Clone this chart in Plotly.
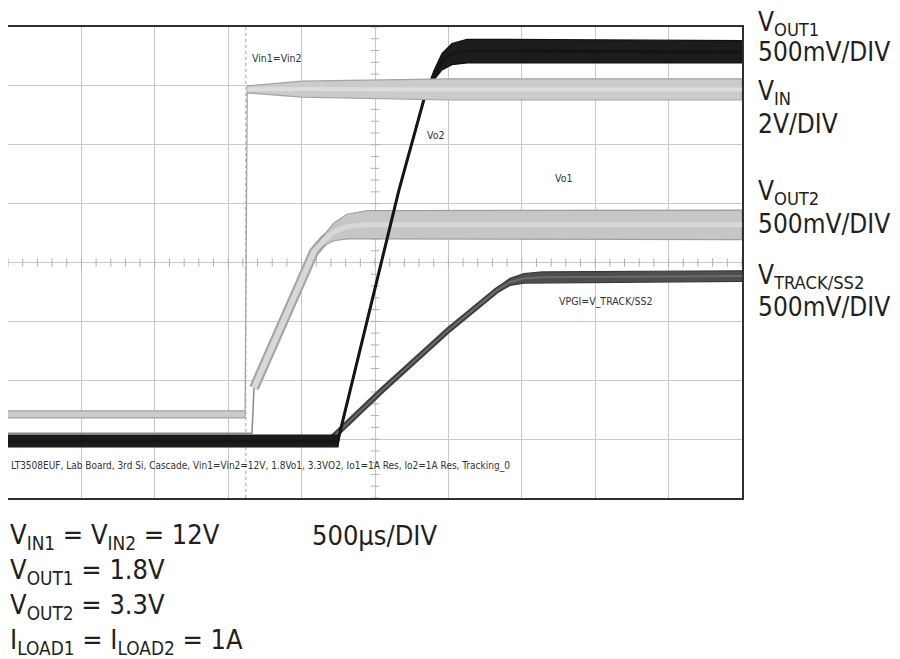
import numpy as np
import plotly.graph_objects as go

# scope screen: 10 x 500us horizontally, 8 divisions vertically (y in div)
vin_t = [0, 1615, 1630, 2000, 3000, 5000]
vin_hi = [1.48, 1.48, 7.00, 7.08, 7.12, 7.12]
vin_lo = [1.36, 1.36, 6.88, 6.81, 6.76, 6.76]

vout2_t = [0, 1662, 1676, 2084, 2153, 2221, 2309, 2446, 5000]
vout2_v = [1.10, 1.10, 1.87, 4.18, 4.38, 4.52, 4.61, 4.64, 4.64]
vout2_rip = [0.02, 0.02, 0.02, 0.04, 0.09, 0.15, 0.21, 0.24, 0.25]

vout1_t = [0, 2248, 2255, 2663, 2841, 2902, 2956, 3024, 3127, 3297, 5000]
vout1_v = [0.97, 0.97, 1.05, 5.23, 6.84, 7.18, 7.41, 7.54, 7.59, 7.59, 7.58]
vout1_rip = [0.10, 0.10, 0.02, 0.02, 0.02, 0.08, 0.14, 0.18, 0.20, 0.20, 0.19]

track_t = [0, 2193, 2221, 2548, 3004, 3331, 3420, 3515, 3638, 5000]
track_v = [0.97, 0.97, 1.05, 1.83, 2.86, 3.53, 3.67, 3.73, 3.75, 3.77]
track_rip = [0.08, 0.08, 0.03, 0.03, 0.03, 0.04, 0.06, 0.08, 0.09, 0.09]

trigger_t = 1620

FONT = "DejaVu Sans Condensed, Roboto, sans-serif"


def band(t, hi, lo, fill, edge):
    xs = list(t) + list(t)[::-1]
    ys = list(hi) + list(lo)[::-1]
    return go.Scatter(x=xs, y=ys, mode="lines", fill="toself", fillcolor=fill,
                      line=dict(color=edge, width=1.2), hoverinfo="skip")


def line(t, v, color, width):
    return go.Scatter(x=t, y=v, mode="lines", line=dict(color=color, width=width),
                      hoverinfo="skip")


fig = go.Figure()

# centre-line tick marks of the graticule
ct = np.arange(0, 5001, 100)
fig.add_trace(go.Scatter(x=ct, y=[4] * len(ct), mode="markers",
                         marker=dict(symbol="line-ns", size=6, line=dict(color="#b0b0b0", width=1)),
                         hoverinfo="skip"))
cv = np.arange(0, 8.01, 0.2)
fig.add_trace(go.Scatter(x=[2500] * len(cv), y=cv, mode="markers",
                         marker=dict(symbol="line-ew", size=6, line=dict(color="#b0b0b0", width=1)),
                         hoverinfo="skip"))

# VOUT2: thin low level, then light tube with a noisy band on the plateau
fig.add_trace(line(vout2_t[:3], vout2_v[:3], "#8a8a8a", 1.5))
fig.add_trace(line(vout2_t[2:], vout2_v[2:], "#a4a4a4", 10))
fig.add_trace(line(vout2_t[2:], vout2_v[2:], "#cecece", 6))
v2_hi = [v + r for v, r in zip(vout2_v, vout2_rip)]
v2_lo = [v - r for v, r in zip(vout2_v, vout2_rip)]
fig.add_trace(band(vout2_t[2:], v2_hi[2:], v2_lo[2:], "#c6c6c6", "#a0a0a0"))
fig.add_trace(line(vout2_t[2:], vout2_v[2:], "#d8d8d8", 5))

# VTRACK/SS2: dark grey
tk_hi = [v + r for v, r in zip(track_v, track_rip)]
tk_lo = [v - r for v, r in zip(track_v, track_rip)]
fig.add_trace(line(track_t, track_v, "#444444", 6))
fig.add_trace(band(track_t, tk_hi, tk_lo, "#4e4e4e", "#3a3a3a"))
fig.add_trace(line(track_t, track_v, "#6a6a6a", 2))

# VOUT1: black
v1_hi = [v + r for v, r in zip(vout1_v, vout1_rip)]
v1_lo = [v - r for v, r in zip(vout1_v, vout1_rip)]
fig.add_trace(band(vout1_t, v1_hi, v1_lo, "#1c1c1c", "#111111"))
fig.add_trace(line(vout1_t, vout1_v, "#151515", 3))

# VIN: light grey band on top
fig.add_trace(band(vin_t, vin_hi, vin_lo, "#cbcbcb", "#a4a4a4"))
vin_mid = [(a + b) / 2 for a, b in zip(vin_hi, vin_lo)]
fig.add_trace(line(vin_t[2:], vin_mid[2:], "#dcdcdc", 4))

fig.add_shape(type="line", x0=trigger_t, x1=trigger_t, y0=0, y1=8, xref="x", yref="y",
              line=dict(color="#a0a0a0", width=1, dash="dot"), layer="below")

small = dict(family=FONT, size=10.5, color="#333333")
fig.add_annotation(x=1832, y=7.47, text="Vin1=Vin2", showarrow=False, font=small)
fig.add_annotation(x=2909, y=6.17, text="Vo2", showarrow=False, font=small)
fig.add_annotation(x=3787, y=5.44, text="Vo1", showarrow=False, font=small)
fig.add_annotation(x=4074, y=3.33, text="VPGI=V_TRACK/SS2", showarrow=False, font=small)
fig.add_annotation(x=10, y=0.54, xanchor="left",
                   text="LT3508EUF, Lab Board, 3rd Si, Cascade, Vin1=Vin2=12V, 1.8Vo1, "
                        "3.3VO2, Io1=1A Res, Io2=1A Res, Tracking_0",
                   showarrow=False, font=dict(family=FONT, size=10, color="#333333"))

big = dict(family=FONT, size=26, color="#231f20")
right_labels = [
    ("V<sub>OUT1</sub>", 1.007),
    ("500mV/DIV", 0.947),
    ("V<sub>IN</sub>", 0.860),
    ("2V/DIV", 0.794),
    ("V<sub>OUT2</sub>", 0.648),
    ("500mV/DIV", 0.582),
    ("V<sub>TRACK/SS2</sub>", 0.471),
    ("500mV/DIV", 0.406),
]
for txt, yy in right_labels:
    fig.add_annotation(x=1.0185, xref="paper", y=yy, yref="paper", xanchor="left",
                       yanchor="middle", text=txt, showarrow=False, font=big)

bottom_labels = [
    ("V<sub>IN1</sub> = V<sub>IN2</sub> = 12V", -0.081),
    ("V<sub>OUT1</sub> = 1.8V", -0.157),
    ("V<sub>OUT2</sub> = 3.3V", -0.231),
    ("I<sub>LOAD1</sub> = I<sub>LOAD2</sub> = 1A", -0.304),
]
for txt, yy in bottom_labels:
    fig.add_annotation(x=0.0, xref="paper", y=yy, yref="paper", xanchor="left",
                       yanchor="middle", text=txt, showarrow=False,
                       font=dict(family=FONT, size=27, color="#231f20"))
fig.add_annotation(x=0.411, xref="paper", y=-0.079, yref="paper", xanchor="left",
                   yanchor="middle", text="500µs/DIV", showarrow=False,
                   font=dict(family=FONT, size=27, color="#231f20"))

fig.update_layout(
    width=900, height=659,
    margin=dict(l=0, r=166, t=19, b=169),
    paper_bgcolor="white", plot_bgcolor="white",
    showlegend=False,
    xaxis=dict(range=[0, 5000], dtick=500, showgrid=True, gridcolor="#c8c8c8", gridwidth=1.2,
               showticklabels=False, zeroline=False, showline=True, mirror=True,
               linecolor="#303030", linewidth=2, ticks=""),
    yaxis=dict(range=[0, 8], dtick=1, showgrid=True, gridcolor="#c8c8c8", gridwidth=1.2,
               showticklabels=False, zeroline=False, showline=True, mirror=True,
               linecolor="#303030", linewidth=2, ticks=""),
)

fig.write_html("out.html")
